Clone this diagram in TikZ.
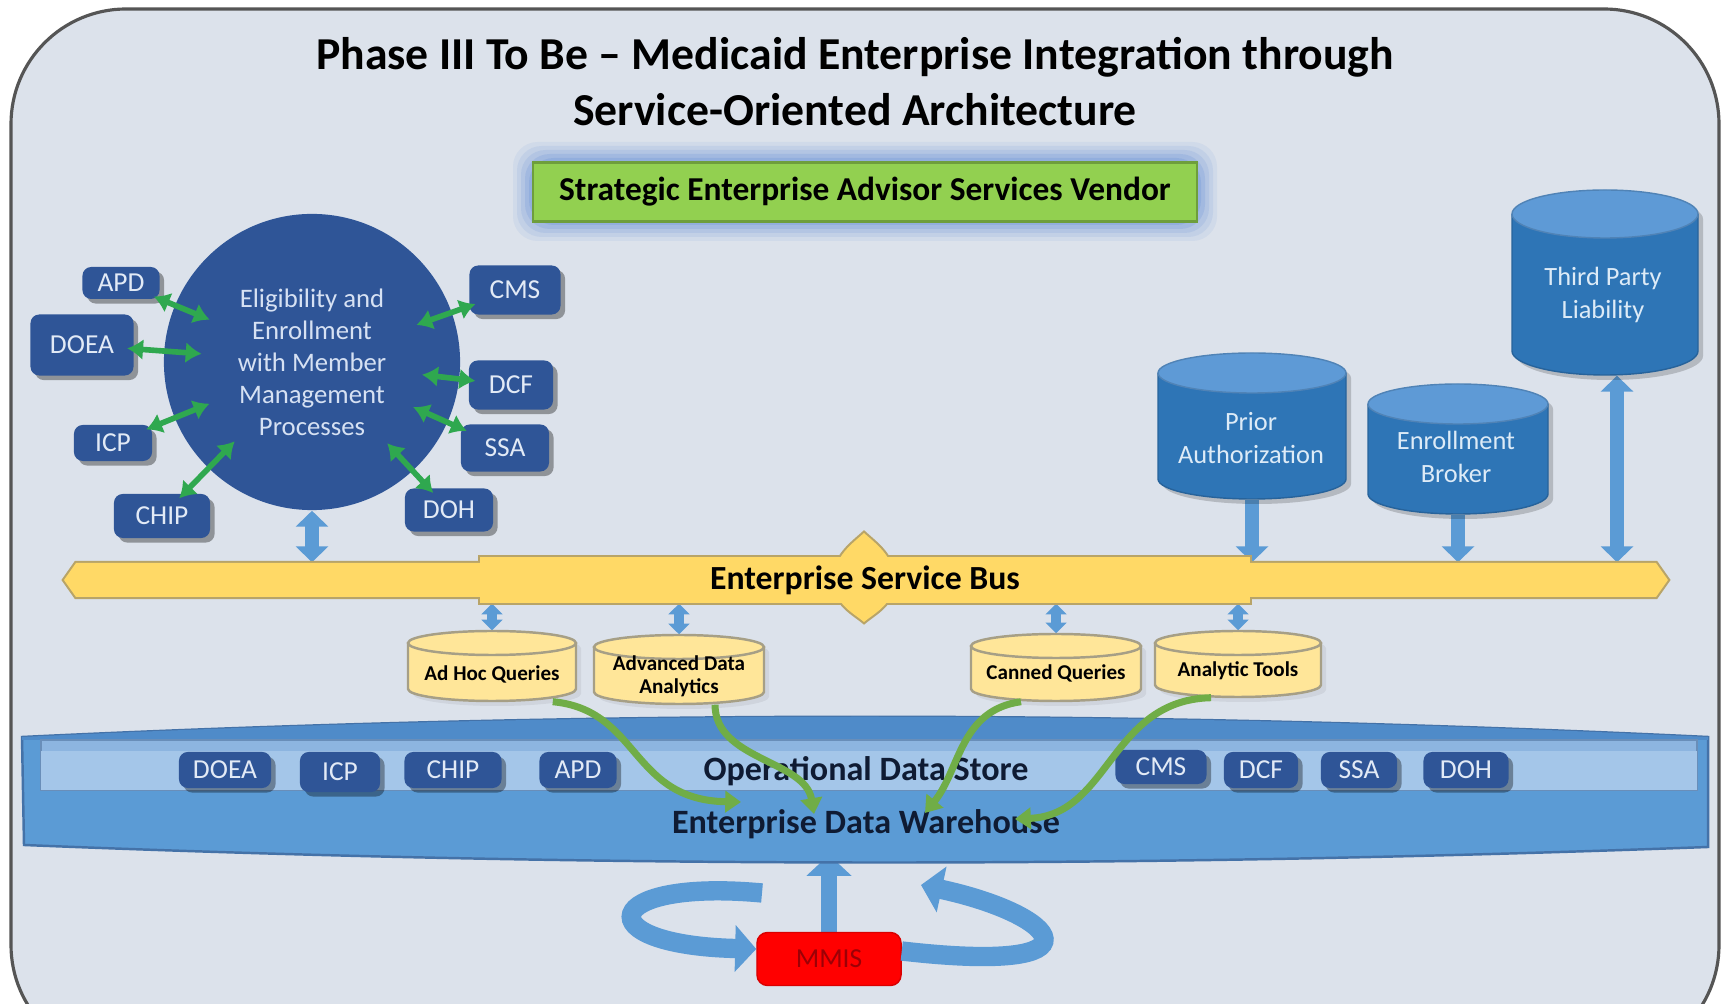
\documentclass[tikz,border=0pt]{standalone}
\usepackage{fontspec}
\setmainfont{Carlito}
\usetikzlibrary{arrows.meta,shadows}
\pgfdeclarelayer{back}
\pgfdeclarelayer{conn}
\pgfdeclarelayer{shapes}
\pgfsetlayers{back,conn,shapes,main}
\definecolor{bgc}{HTML}{DCE2EB}
\definecolor{framec}{HTML}{555555}
\definecolor{navy}{HTML}{2F5597}
\definecolor{navytxt}{HTML}{E2EAF6}
\definecolor{circtxt}{HTML}{D6E1F3}
\definecolor{midblue}{HTML}{5B9BD5}
\definecolor{cylblue}{HTML}{2E75B6}
\definecolor{cyltopc}{HTML}{5E9AD6}
\definecolor{cyltxt}{HTML}{DDEBF7}
\definecolor{esbfill}{HTML}{FFD966}
\definecolor{esbedge}{HTML}{B8A468}
\definecolor{ycylfill}{HTML}{FFE699}
\definecolor{ycyledge}{HTML}{A69F86}
\definecolor{bandc}{HTML}{5B9BD5}
\definecolor{bandtop}{HTML}{4F8BC9}
\definecolor{bandedge}{HTML}{4472A8}
\definecolor{odsc}{HTML}{A4C6E9}
\definecolor{odsband}{HTML}{8DB5E0}
\definecolor{garr}{HTML}{70AD47}
\definecolor{gsmall}{HTML}{2FA84F}
\definecolor{lime}{HTML}{92D050}
\definecolor{limeedge}{HTML}{6E9E3C}
\definecolor{glow}{HTML}{6F96D8}
\definecolor{mmisred}{HTML}{FF0000}
\definecolor{mmistxt}{HTML}{9C0006}
\definecolor{darktxt}{HTML}{0F1B33}
\tikzset{
  navybox/.style={fill=navy, rounded corners=2.5pt, text=navytxt, inner sep=0pt,
    font=\fontsize{7.8}{9}\selectfont,
    drop shadow={shadow xshift=1.3pt, shadow yshift=-1.3pt, opacity=0.35, fill=black}},
  btxt/.style={text=cyltxt, align=center, font=\fontsize{7.5}{9.5}\selectfont},
  ytxt/.style={text=black, align=center, font=\bfseries\fontsize{6}{6.6}\selectfont},
  bandtxt/.style={text=darktxt, font=\bfseries\fontsize{9.7}{11}\selectfont},
  bbody/.style={fill=cylblue},
  bedge/.style={draw=cylblue!85!black, line width=0.4pt},
  btop/.style={fill=cyltopc, draw=cyltopc!85!black, line width=0.4pt},
  bshadow/.style={fill=black, opacity=0.18},
  ybody/.style={fill=ycylfill},
  yedge/.style={draw=ycyledge, line width=0.7pt},
  ytop/.style={fill=ycylfill, draw=ycyledge, line width=0.7pt},
  yshadow/.style={fill=black, opacity=0.06},
  gsarrow/.style={draw=gsmall, line width=1.6pt,
    {Latex[length=4.5pt,width=6pt]}-{Latex[length=4.5pt,width=6pt]},
    shorten <=-2pt, shorten >=-0.38cm},
  bigarrow/.style={draw=midblue, line width=4pt,
    {Triangle[width=9pt,length=4.5pt]}-{Triangle[width=9pt,length=4.5pt]}},
  bigdown/.style={draw=midblue, line width=4pt, -{Triangle[width=9pt,length=4.5pt]}},
  smallarrow/.style={draw=midblue, line width=2.6pt,
    {Triangle[width=5.8pt,length=3pt]}-{Triangle[width=5.8pt,length=3pt]}},
  uparrow/.style={draw=midblue, line width=4.5pt, -{Triangle[width=12.5pt,length=6pt]}},
  garrow/.style={draw=garr, line width=2pt, -{Triangle[width=6pt,length=4.5pt]}},
  mmisloop/.style={draw=midblue, line width=5.5pt, -{Triangle[width=13pt,length=6pt]}}
}
\newcommand\drawcyl[7]{%
  \node[inner sep=0pt, minimum width={#6*0.02cm}, minimum height={(#5-#4)*0.01cm}] (#2) at (#3,{(#4+#5)/2}) {};
  \begin{pgfonlayer}{shapes}
    \begin{scope}[shift={(5,5)}]
      \fill[#1shadow] (#3-#6,#4+#7) -- (#3-#6,#5-#7) arc[start angle=180,end angle=0,x radius=#6,y radius=#7] -- (#3+#6,#4+#7) arc[start angle=0,end angle=-180,x radius=#6,y radius=#7] -- cycle;
    \end{scope}
    \fill[#1body] (#3-#6,#4+#7) -- (#3-#6,#5-#7) arc[start angle=180,end angle=0,x radius=#6,y radius=#7] -- (#3+#6,#4+#7) -- cycle;
    \draw[#1edge] (#3-#6,#4+#7) -- (#3-#6,#5-#7) arc[start angle=180,end angle=0,x radius=#6,y radius=#7] -- (#3+#6,#4+#7);
    \filldraw[#1top] (#3,#4+#7) ellipse[x radius=#6,y radius=#7];
  \end{pgfonlayer}}
\begin{document}
\begin{tikzpicture}[x=0.01cm, y=-0.01cm]
\useasboundingbox (0,0) rectangle (1730,1004);
% background and frame
\begin{pgfonlayer}{back}
  \fill[white] (0,0) rectangle (1730,1004);
  \draw[fill=bgc, draw=framec, line width=0.9pt, rounded corners=1.15cm] (11,9) rectangle (1719,1060);
  \foreach \g/\o in {20/0.1,16/0.14,12/0.18,8/0.24,4/0.3}
    \fill[glow, opacity=\o, rounded corners=7pt] (533-\g,162-\g) rectangle (1197+\g,221+\g);
\end{pgfonlayer}
% title
\node[font=\bfseries\fontsize{13}{15}\selectfont] (t1) at (855,57) {Phase III To Be -- Medicaid Enterprise Integration through};
\node[font=\bfseries\fontsize{13}{15}\selectfont] (t2) at (855,110) {Service-Oriented Architecture};
\node[fill=lime, draw=limeedge, line width=0.6pt, minimum width=6.64cm, minimum height=0.59cm,
  font=\bfseries\fontsize{9.5}{11}\selectfont] (seas) at (865,192) {Strategic Enterprise Advisor Services Vendor};
% eligibility circle and partners
\node[circle, fill=navy, minimum size=2.96cm, inner sep=0pt, text=circtxt, align=center,
  font=\fontsize{7.6}{9.1}\selectfont] (elig) at (312,362) {Eligibility and\\Enrollment\\with Member\\Management\\Processes};
\node[navybox, minimum width=0.77cm, minimum height=0.32cm] (apd1) at (121,283) {APD};
\node[navybox, minimum width=1.03cm, minimum height=0.61cm] (doea1) at (82,345) {DOEA};
\node[navybox, minimum width=0.78cm, minimum height=0.36cm] (icp1) at (113,443) {ICP};
\node[navybox, minimum width=0.96cm, minimum height=0.44cm] (chip1) at (162,516) {CHIP};
\node[navybox, minimum width=0.91cm, minimum height=0.49cm] (cms1) at (515,290) {CMS};
\node[navybox, minimum width=0.84cm, minimum height=0.49cm] (dcf1) at (511,385) {DCF};
\node[navybox, minimum width=0.88cm, minimum height=0.47cm] (ssa1) at (505,448) {SSA};
\node[navybox, minimum width=0.88cm, minimum height=0.43cm] (doh1) at (449,510) {DOH};
\foreach \b in {apd1,doea1,icp1,chip1,cms1,dcf1,ssa1,doh1}
  \draw[gsarrow] (\b) -- (elig);
% cylinders
\drawcyl{b}{prior}{1252}{353}{499}{94}{20}
\drawcyl{b}{enroll}{1458}{384}{514}{90}{20}
\drawcyl{b}{third}{1605}{190}{375}{93}{24}
\drawcyl{y}{adhoc}{492}{631}{701}{84}{12}
\drawcyl{y}{adv}{679}{635}{704}{85}{12}
\drawcyl{y}{canned}{1056}{634}{701}{85}{12}
\drawcyl{y}{tools}{1238}{631}{697}{83}{12}
\node[btxt] (prior-t) at (1251,438) {Prior\\Authorization};
\node[btxt] (enroll-t) at (1456,457) {Enrollment\\Broker};
\node[btxt] (third-t) at (1603,295) {Third Party\\Liability};
\node[ytxt] (adhoc-t) at (492,674) {Ad Hoc Queries};
\node[ytxt] (adv-t) at (679,676) {Advanced Data\\Analytics};
\node[ytxt] (canned-t) at (1056,673) {Canned Queries};
\node[ytxt] (tools-t) at (1238,671) {Analytic Tools};
% enterprise service bus
\node[inner sep=0pt, minimum width=16.04cm, minimum height=0.34cm] (esb) at (866,580) {};
\node[inner sep=0pt, minimum width=7.7cm, minimum height=0.46cm, text=black,
  font=\bfseries\fontsize{9.6}{11}\selectfont] (esbc) at (865,580) {Enterprise Service Bus};
\begin{pgfonlayer}{shapes}
  \draw[esbedge, line width=1.2pt] (64,580) -- (76,563) -- (1656,563) -- (1668,580) -- (1656,597) -- (76,597) -- cycle;
  \draw[esbedge, line width=1.2pt] (480,557) rectangle (1250,603);
  \draw[esbedge, line width=1.2pt] (834,580) .. controls (834,556) and (852,544) .. (864,533) .. controls (876,544) and (894,556) .. (894,580) .. controls (894,604) and (876,612) .. (864,622) .. controls (852,612) and (834,604) .. (834,580);
  \fill[esbfill] (64,580) -- (76,563) -- (1656,563) -- (1668,580) -- (1656,597) -- (76,597) -- cycle;
  \fill[esbfill] (480,557) rectangle (1250,603);
  \fill[esbfill] (834,580) .. controls (834,556) and (852,544) .. (864,533) .. controls (876,544) and (894,556) .. (894,580) .. controls (894,604) and (876,612) .. (864,622) .. controls (852,612) and (834,604) .. (834,580);
\end{pgfonlayer}
% data warehouse band
\node[inner sep=0pt, minimum width=16.86cm, minimum height=1.42cm] (edw) at (865,790) {};
\begin{pgfonlayer}{shapes}
  \filldraw[fill=bandc, draw=bandedge, line width=0.7pt] (22,737) .. controls (590,710) and (1140,710) .. (1708,737) -- (1708,847) .. controls (1140,868) and (590,868) .. (24,845) -- cycle;
  \fill[bandtop] (22,737) .. controls (590,710) and (1140,710) .. (1708,737) -- (1708,740) -- (22,740) -- cycle;
  \filldraw[fill=odsband, draw=bandedge!80, line width=0.5pt] (41,740) rectangle (1697,790);
  \fill[odsc] (41,751) rectangle (1697,790);
\end{pgfonlayer}
\node[navybox, minimum width=0.92cm, minimum height=0.36cm] (doea2) at (225,770) {DOEA};
\node[navybox, minimum width=0.80cm, minimum height=0.40cm] (icp2) at (340,772) {ICP};
\node[navybox, minimum width=0.97cm, minimum height=0.36cm] (chip2) at (453,770) {CHIP};
\node[navybox, minimum width=0.77cm, minimum height=0.36cm] (apd2) at (578,770) {APD};
\node[navybox, minimum width=0.91cm, minimum height=0.34cm] (cms2) at (1161,767) {CMS};
\node[navybox, minimum width=0.74cm, minimum height=0.36cm] (dcf2) at (1261,770) {DCF};
\node[navybox, minimum width=0.76cm, minimum height=0.36cm] (ssa2) at (1359,770) {SSA};
\node[navybox, minimum width=0.85cm, minimum height=0.36cm] (doh2) at (1466,770) {DOH};
\node[bandtxt] (odst) at (866,771) {Operational Data Store};
\node[bandtxt] (edwt) at (866,824) {Enterprise Data Warehouse};
% MMIS
\node[fill=mmisred, draw=red!85!black, rounded corners=3pt, minimum width=1.44cm, minimum height=0.53cm,
  text=mmistxt, font=\fontsize{7.8}{9}\selectfont] (mmis) at (829,959) {MMIS};
% block arrows (behind shapes)
\begin{pgfonlayer}{conn}
  \draw[bigarrow] (elig.south) -- (elig.south |- esb.north);
  \draw[bigdown] (prior.south) -- (prior.south |- esb.north);
  \draw[bigdown] (enroll.south) -- (enroll.south |- esb.north);
  \draw[bigarrow] ([xshift=0.12cm]third.south) -- ([xshift=0.12cm]third.south |- esb.north);
  \draw[smallarrow] (adhoc.north |- esbc.south) -- (adhoc.north);
  \draw[smallarrow] (adv.north |- esbc.south) -- (adv.north);
  \draw[smallarrow] (canned.north |- esbc.south) -- (canned.north);
  \draw[smallarrow] (tools.north |- esbc.south) -- (tools.north);
  \draw[uparrow, shorten >=-0.07cm] (mmis.north) -- (mmis.north |- edw.south);
\end{pgfonlayer}
% green data-flow arrows
\coordinate (g1) at (741,802);
\coordinate (g2) at (814,814);
\coordinate (g3) at (925,813);
\coordinate (g4) at (1015,819);
\draw[garrow] ([xshift=-0.24cm]adhoc.south east) .. controls (640,710) and (630,800) .. (g1);
\draw[garrow] ([xshift=0.36cm]adv.south) .. controls (715,760) and (805,760) .. (g2);
\draw[garrow] ([xshift=-0.35cm]canned.south) .. controls (960,710) and (960,770) .. (g3);
\draw[garrow] ([xshift=-0.27cm]tools.south) .. controls (1110,700) and (1110,815) .. (g4);
% MMIS loops
\coordinate (l0) at (762,893);
\coordinate (r1) at (921,885);
\draw[mmisloop] (l0) .. controls (600,878) and (585,945) .. ([yshift=0.1cm]mmis.west);
\draw[mmisloop] ([yshift=0.08cm]mmis.east) .. controls (1110,975) and (1060,915) .. (r1);
\end{tikzpicture}
\end{document}
